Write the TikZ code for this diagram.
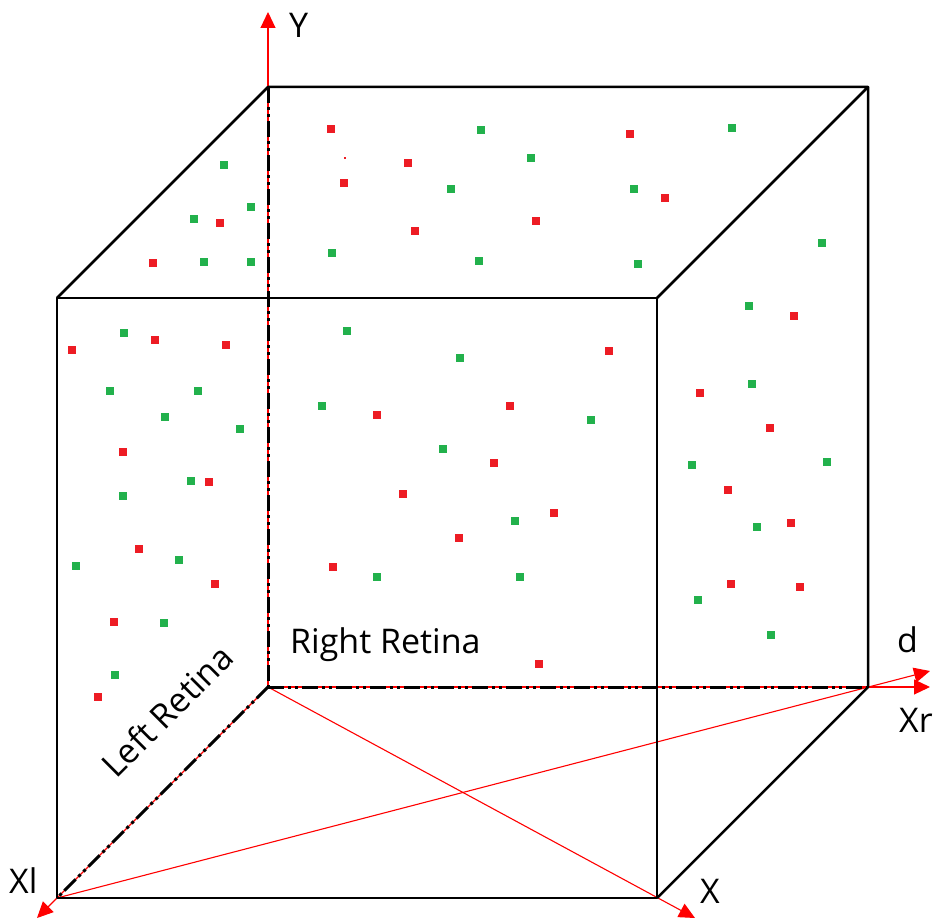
\documentclass[tikz,border=0pt]{standalone}
\usepackage{fontspec}
\setmainfont{Open Sans}
\usetikzlibrary{arrows.meta}
\definecolor{dotred}{RGB}{237,28,36}
\definecolor{dotgreen}{RGB}{34,177,76}
\begin{document}
\begin{tikzpicture}[x=1pt, y=-1pt,
    edge/.style={draw=black, line width=2.5pt, line join=round},
    backedge/.style={draw=black, line width=3pt, dash pattern=on 16pt off 4pt on 3pt off 4pt on 3pt off 4pt},
    axis/.style={draw=red, line width=1.1pt, -{Triangle[length=16pt, width=15pt]}},
    axlabel/.style={font=\fontsize{34}{40}\selectfont, inner sep=0pt},
    rdot/.style={fill=dotred},
    gdot/.style={fill=dotgreen},
]
\useasboundingbox (0,0) rectangle (934,923);

\coordinate (ftl) at (57,298);
\coordinate (ftr) at (657,298);
\coordinate (fbr) at (657,898);
\coordinate (fbl) at (57,898);
\coordinate (btl) at (268,87);
\coordinate (btr) at (868,87);
\coordinate (bbr) at (868,687);
\coordinate (bbl) at (268,687);

\coordinate (yend) at (268,12);
\coordinate (xrend) at (930,687);
\coordinate (xlend) at (37,918);
\coordinate (xend) at (695,918);
\coordinate (dend) at (930,671);

\draw[axis] (bbl) -- (yend);
\draw[axis] (bbl) -- (xrend);
\draw[axis] (bbl) -- (xlend);
\draw[axis] (bbl) -- (xend);
\draw[axis] (fbl) -- (dend);

\draw[backedge] (btl) -- (bbl);
\draw[backedge] (bbl) -- (bbr);
\draw[backedge] (bbl) -- (fbl);

\draw[edge] (ftl) -- (ftr) -- (fbr) -- (fbl) -- cycle;
\draw[edge] (ftl) -- (btl) -- (btr) -- (ftr);
\draw[edge] (btr) -- (bbr) -- (fbr);

\foreach \x/\y in {220/223, 153/263, 331/129, 344/183, 408/163, 415/231, 536/221, 630/134, 665/198,
    155/340, 72/350, 226/345, 123/452, 209/482, 139/549, 215/584, 114/622, 98/697,
    609/351, 377/415, 510/406, 494/463, 403/494, 554/513, 459/538, 333/567, 539/664,
    794/316, 700/393, 770/428, 728/490, 791/523, 731/584, 800/587}
  \fill[rdot] (\x-4,\y-4) rectangle (\x+4,\y+4);
\fill[rdot] (344,157) rectangle (346,159);
\foreach \x/\y in {224/165, 251/207, 194/219, 204/262, 251/262, 481/130, 531/158, 451/189, 332/253, 479/261, 634/189, 638/264, 732/128,
    124/333, 110/391, 198/391, 165/417, 240/429, 191/481, 123/496, 76/566, 179/560, 164/623, 115/675,
    347/331, 460/358, 322/406, 591/420, 443/449, 515/521, 377/577, 520/577,
    822/243, 749/306, 752/384, 692/465, 827/462, 757/527, 698/600, 771/635}
  \fill[gdot] (\x-4,\y-4) rectangle (\x+4,\y+4);

\node[axlabel, anchor=base west] (ylab) at (289,38) {Y};
\node[axlabel, anchor=base west] (dlab) at (897,652) {d};
\node[axlabel, anchor=base west] (xrlab) at (899,732) {Xr};
\node[axlabel, anchor=base west] (xllab) at (9,893) {Xl};
\node[axlabel, anchor=base west] (xlab) at (700,903) {X};
\node[axlabel, anchor=base west] (rret) at (290,653) {Right Retina};
\node[axlabel, anchor=base, rotate=45] (lret) at (176,720) {Left Retina};
\end{tikzpicture}
\end{document}
